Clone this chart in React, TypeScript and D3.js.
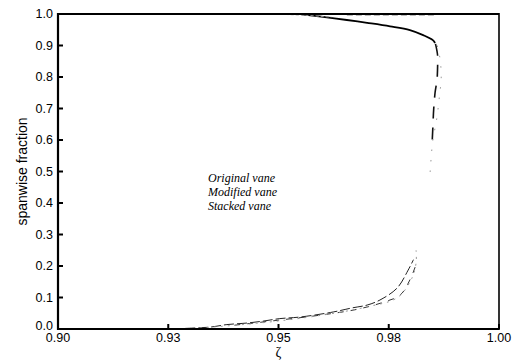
import React from 'react';
import * as d3 from 'd3';

type Pt = [number, number];

// zeta, spanwise fraction
const originalTop: Pt[] = [
  [0.9553, 0.999], [0.9601, 0.991], [0.9655, 0.981], [0.9701, 0.972],
  [0.9753, 0.961], [0.9798, 0.949], [0.9828, 0.933], [0.985, 0.917], [0.9855, 0.908],
];
const originalBottom: Pt[] = [
  [0.9259, 0.0], [0.9306, 0.003], [0.9345, 0.006], [0.9383, 0.014], [0.9429, 0.019],
  [0.9465, 0.025], [0.9503, 0.033], [0.9549, 0.038], [0.9624, 0.054], [0.9667, 0.067],
  [0.9701, 0.076], [0.973, 0.092], [0.9769, 0.13], [0.9794, 0.187], [0.9806, 0.22],
];
const modifiedSpan: Pt[] = [
  [0.9856, 0.905], [0.9861, 0.86], [0.986, 0.8], [0.9855, 0.75],
  [0.9852, 0.7], [0.985, 0.64], [0.9848, 0.58],
];
const modifiedBottom: Pt[] = [
  [0.94, 0.012], [0.95, 0.028], [0.96, 0.045], [0.968, 0.063], [0.974, 0.086],
  [0.9776, 0.108], [0.9798, 0.156], [0.9814, 0.213],
];
const stackedTop: Pt[] = [
  [0.9505, 0.999], [0.956, 0.996], [0.962, 0.99],
];
const stackedEdge: Pt[] = [
  [0.9655, 0.997], [0.9855, 0.997],
];
const stackedSpan: Pt[] = [
  [0.986, 0.9], [0.9867, 0.85], [0.9869, 0.8], [0.9865, 0.74], [0.9858, 0.66],
  [0.985, 0.6], [0.9846, 0.54], [0.9843, 0.48],
];
const stackedBottom: Pt[] = [
  [0.929, 0.0], [0.945, 0.018], [0.958, 0.04], [0.97, 0.07], [0.977, 0.1],
  [0.9802, 0.16], [0.9812, 0.21], [0.9812, 0.25],
];

const xTicks = [0.9, 0.925, 0.95, 0.975, 1.0];
const xTickLabels = ['0.90', '0.93', '0.95', '0.98', '1.00'];
const yTicks = [0, 0.1, 0.2, 0.3, 0.4, 0.5, 0.6, 0.7, 0.8, 0.9, 1.0];
const legendLabels = ['Original vane', 'Modified vane', 'Stacked vane'];

const W = 520;
const H = 360;
const margin = { top: 14, right: 21, bottom: 31, left: 58 };

export default function App() {
  const x = d3.scaleLinear().domain([0.9, 1.0]).range([margin.left, W - margin.right]);
  const y = d3.scaleLinear().domain([0, 1]).range([H - margin.bottom, margin.top]);
  const line = d3
    .line<Pt>()
    .x((d) => x(d[0]))
    .y((d) => y(d[1]))
    .curve(d3.curveMonotoneY);
  const lineX = d3
    .line<Pt>()
    .x((d) => x(d[0]))
    .y((d) => y(d[1]))
    .curve(d3.curveCatmullRom);

  const x0 = x(0.9);
  const x1 = x(1.0);
  const y0 = y(0);
  const y1 = y(1);
  const sans = 'Liberation Sans, Arial, sans-serif';

  return (
    <svg
      width={W}
      height={H}
      style={{ position: 'absolute', left: 0, top: 0, background: '#fff' }}
    >
      {/* curves */}
      <path d={lineX(originalTop) || ''} fill="none" stroke="#000" strokeWidth={1.8} />
      <path d={lineX(stackedTop) || ''} fill="none" stroke="#999" strokeWidth={1} strokeDasharray="3,2" />
      <path d={lineX(stackedEdge) || ''} fill="none" stroke="#666" strokeWidth={1} strokeDasharray="6,3" />
      <path d={line(modifiedSpan) || ''} fill="none" stroke="#111" strokeWidth={1.6} strokeDasharray="12,9" />
      <path d={line(stackedSpan) || ''} fill="none" stroke="#999" strokeWidth={1} strokeDasharray="1.5,9" />
      <path d={lineX(originalBottom) || ''} fill="none" stroke="#222" strokeWidth={1} strokeDasharray="10,3" />
      <path d={lineX(modifiedBottom) || ''} fill="none" stroke="#333" strokeWidth={1} strokeDasharray="6,7" />
      <path d={lineX(stackedBottom) || ''} fill="none" stroke="#999" strokeWidth={1} strokeDasharray="2,5" />

      {/* frame */}
      <line x1={x0} x2={x1} y1={y1} y2={y1} stroke="#000" strokeWidth={2.2} />
      <line x1={x0} x2={x1} y1={y0} y2={y0} stroke="#000" strokeWidth={2.2} />
      <line x1={x0} x2={x0} y1={y1 - 1} y2={y0 + 1} stroke="#000" strokeWidth={2.2} />
      <line x1={x1} x2={x1} y1={y1 - 1} y2={y0 + 1} stroke="#000" strokeWidth={1.6} />

      {/* y ticks */}
      {yTicks.map((t) => (
        <g key={`y${t}`}>
          <line x1={x0} x2={x0 + 5} y1={y(t)} y2={y(t)} stroke="#000" strokeWidth={2} />
          <text
            x={x0 - 5}
            y={y(t) - (t === 0 ? 3 : 0)}
            dy="0.35em"
            textAnchor="end"
            fontFamily={sans}
            fontSize={12.5}
          >
            {d3.format('.1f')(t)}
          </text>
        </g>
      ))}

      {/* x ticks */}
      {xTicks.map((t, i) => (
        <g key={`x${t}`}>
          <line x1={x(t)} x2={x(t)} y1={y0} y2={y0 - 5} stroke="#000" strokeWidth={2} />
          <text
            x={x(t)}
            y={y0 + 13}
            textAnchor="middle"
            fontFamily={sans}
            fontSize={12.5}
          >
            {xTickLabels[i]}
          </text>
        </g>
      ))}

      {/* axis titles */}
      <text
        transform={`translate(22,${(y0 + y1) / 2}) rotate(-90)`}
        textAnchor="middle"
        dy="0.35em"
        fontFamily={sans}
        fontSize={14}
      >
        spanwise fraction
      </text>
      <text
        x={(x0 + x1) / 2}
        y={H - 3}
        textAnchor="middle"
        fontFamily="Liberation Serif, serif"
        fontSize={14}
      >
        ζ
      </text>

      {/* legend labels */}
      {legendLabels.map((s, i) => (
        <text
          key={s}
          x={208}
          y={182 + i * 14}
          fontFamily="Liberation Serif, serif"
          fontStyle="italic"
          fontSize={12}
        >
          {s}
        </text>
      ))}
    </svg>
  );
}
